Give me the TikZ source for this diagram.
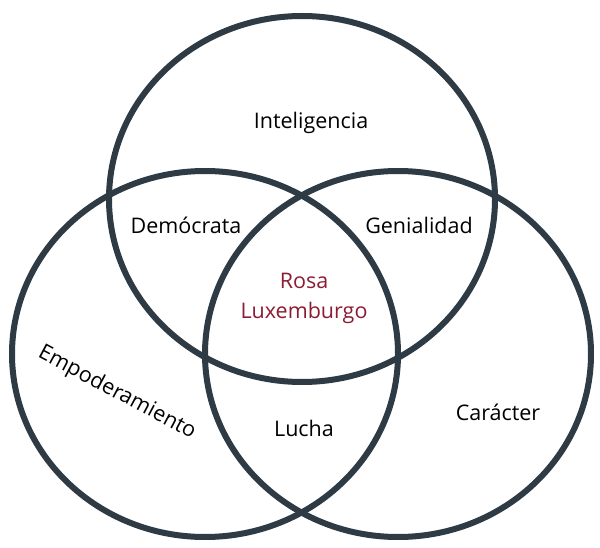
\documentclass[tikz,border=0pt]{standalone}
\usepackage{fontspec}
\setmainfont{Open Sans}
\usetikzlibrary{positioning}
\definecolor{ringgray}{HTML}{2E3A44}
\definecolor{rosared}{HTML}{8C1C31}

\begin{document}
\begin{tikzpicture}[x=1pt,y=-1pt,
    ring/.style={draw=ringgray,line width=6pt},
    lbl/.style={font=\fontsize{21.5}{30}\selectfont,inner sep=0pt,align=center}]
    \useasboundingbox (0,0) rectangle (600,548);
    % draw the three rings
    \foreach \cx/\cy in {302/199,205/354,398/354}
        \draw[ring] (\cx,\cy) ellipse [x radius=193pt, y radius=183pt];
    % draw the labels
    \node[lbl] (intel) at (311,123) {Inteligencia};
    \node[lbl] (demo) at (186,225) {Demócrata};
    \node[lbl] (genial) at (419,225) {Genialidad};
    \node[lbl,text=rosared] (rosa) at (304,298) {Rosa\\Luxemburgo};
    \node[lbl,rotate=-28] (empod) at (117,393) {Empoderamiento};
    \node[lbl] (lucha) at (304,428) {Lucha};
    \node[lbl] (caracter) at (498,412) {Carácter};
\end{tikzpicture}
\end{document}
